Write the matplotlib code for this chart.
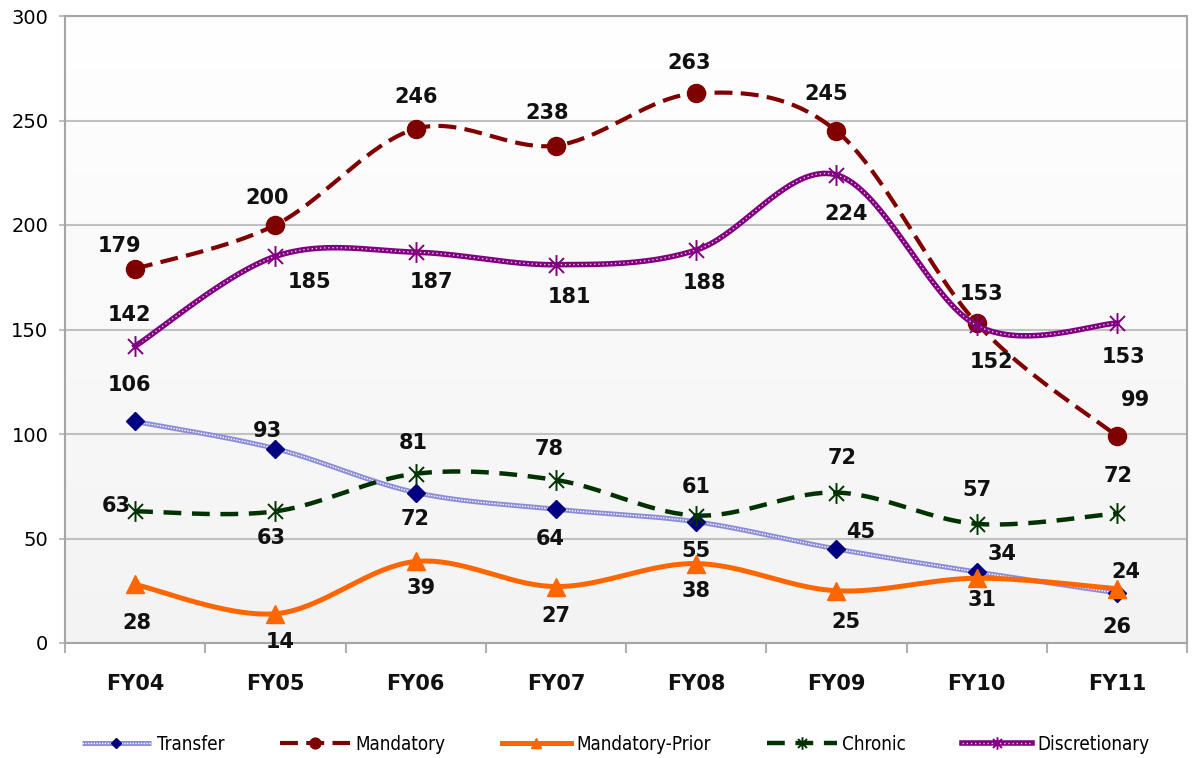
import numpy as np
import matplotlib
matplotlib.use("Agg")
import matplotlib.pyplot as plt
from matplotlib.path import Path
from matplotlib.colors import LinearSegmentedColormap
from matplotlib.legend_handler import HandlerTuple

# data
years = ["FY04", "FY05", "FY06", "FY07", "FY08", "FY09", "FY10", "FY11"]
transfer = [106, 93, 72, 64, 58, 45, 34, 24]
transfer_labels = ["106", "93", "72", "64", "55", "45", "34", "26"]
mandatory = [179, 200, 246, 238, 263, 245, 153, 99]
mandatory_labels = ["179", "200", "246", "238", "263", "245", "153", "99"]
prior = [28, 14, 39, 27, 38, 25, 31, 26]
prior_labels = ["28", "14", "39", "27", "38", "25", "31", "24"]
chronic = [63, 63, 81, 78, 61, 72, 57, 62]
chronic_labels = ["63", "63", "81", "78", "61", "72", "57", "72"]
discretionary = [142, 185, 187, 181, 188, 224, 152, 153]
discretionary_labels = ["142", "185", "187", "181", "188", "224", "152", "153"]

# label offsets in pixels (dx, dy up)
off_transfer = [(-6, 36), (-8, 18), (0, -26), (-6, -30), (0, -29), (24, 17), (25, 18), (0, -34)]
off_mandatory = [(-16, 23), (-8, 27), (0, 32), (-9, 33), (-7, 30), (-10, 37), (5, 29), (19, 36)]
off_prior = [(2, -39), (5, -28), (6, -27), (0, -29), (0, -27), (10, -31), (5, -22), (9, 17)]
off_chronic = [(-19, 5), (-4, -27), (-2, 31), (-7, 31), (0, 29), (6, 35), (0, 34), (1, 37)]
off_disc = [(-6, 31), (34, -26), (16, -30), (14, -32), (8, -33), (10, -39), (15, -37), (7, -34)]

W, H = 1193, 758
YSCALE = (627 / 300) / 140.3   # y units -> x units on screen


def smooth(y, n=40):
    # excel style smoothed line (bezier through the points)
    pts = np.column_stack([np.arange(len(y), dtype=float), np.asarray(y, float) * YSCALE])
    p = np.vstack([pts[0], pts, pts[-1]])
    out = []
    t = np.linspace(0, 1, n)[:, None]
    for i in range(len(pts) - 1):
        p0, p1, p2, p3 = p[i], p[i + 1], p[i + 2], p[i + 3]
        c1 = p1 + (p2 - p0) / 6
        c2 = p2 - (p3 - p1) / 6
        seg = (1 - t) ** 3 * p1 + 3 * (1 - t) ** 2 * t * c1 + 3 * (1 - t) * t ** 2 * c2 + t ** 3 * p2
        out.append(seg if i == 0 else seg[1:])
    out = np.vstack(out)
    return out[:, 0], out[:, 1] / YSCALE


star = Path([(0, -1), (0, 1), (-0.72, -0.72), (0.72, 0.72), (-0.72, 0.72), (0.72, -0.72)],
            [Path.MOVETO, Path.LINETO] * 3)

plt.rcParams['font.family'] = ['DejaVu Sans']
fig = plt.figure(figsize=(W / 100, H / 100), dpi=100)
ax = fig.add_axes([65 / W, 1 - 643 / H, (1187 - 65) / W, (643 - 16) / H])

# plot area gradient
grad = np.linspace(1, 0, 256).reshape(-1, 1)
cmap = LinearSegmentedColormap.from_list("bg", ["#f3f3f3", "#ffffff"])
ax.imshow(grad, extent=(-0.5, 7.5, 0, 300), aspect='auto', cmap=cmap, zorder=0, origin='upper')

x = np.arange(len(years))
handles = []

# Transfer
sx, sy = smooth(transfer)
l1, = ax.plot(sx, sy, color='#8c8cd8', lw=3.6, zorder=3, solid_capstyle='butt')
l2, = ax.plot(sx, sy, color='white', lw=1.0, dashes=(1, 1), zorder=3)
m, = ax.plot(x, transfer, ls='none', marker='D', ms=9, color='#000080', zorder=4)
handles.append((l1, l2, m))

# Mandatory
sx, sy = smooth(mandatory)
l1, = ax.plot(sx, sy, color='#800000', lw=3, dashes=(4.3, 2.0), zorder=5)
m, = ax.plot(x, mandatory, ls='none', marker='o', ms=13, color='#800000', zorder=6)
handles.append((l1, m))

# Mandatory-Prior
sx, sy = smooth(prior)
l1, = ax.plot(sx, sy, color='#ff6600', lw=3.6, zorder=7)
m, = ax.plot(x, prior, ls='none', marker='^', ms=13, color='#ff6600', zorder=8)
handles.append((l1, m))

# Chronic
sx, sy = smooth(chronic)
l1, = ax.plot(sx, sy, color='#003300', lw=3.2, dashes=(4.0, 2.4), zorder=9)
m, = ax.plot(x, chronic, ls='none', marker=star, ms=15, mew=1.4, color='#003300', zorder=10)
handles.append((l1, m))

# Discretionary
sx, sy = smooth(discretionary)
l1, = ax.plot(sx, sy, color='#800080', lw=4, zorder=11)
l2, = ax.plot(sx, sy, color='#e8c8e8', lw=1.0, dashes=(1, 2), zorder=11)
m, = ax.plot(x, discretionary, ls='none', marker=star, ms=15, mew=1.4, color='#800080', zorder=12)
handles.append((l1, l2, m))

# data labels
for vals, labs, offs in [(transfer, transfer_labels, off_transfer),
                         (mandatory, mandatory_labels, off_mandatory),
                         (prior, prior_labels, off_prior),
                         (chronic, chronic_labels, off_chronic),
                         (discretionary, discretionary_labels, off_disc)]:
    for i, (v, s, o) in enumerate(zip(vals, labs, offs)):
        ax.annotate(s, (i, v), xytext=o, textcoords='offset pixels', ha='center', va='center',
                    fontsize=15, fontweight='bold', color='#111111', zorder=20)

ax.set_xlim(-0.5, 7.5)
ax.set_ylim(0, 300)
ax.set_yticks(range(0, 301, 50))
ax.yaxis.grid(True, color='#c0c0c0', lw=1.5, zorder=1)
ax.set_axisbelow(True)
ax.set_xticks(x)
ax.set_xticklabels(years, fontsize=15, fontweight='bold', color='#111111')
ax.set_xticks(np.arange(-0.5, 8, 1), minor=True)
ax.tick_params(axis='x', which='major', length=0, pad=22)
ax.tick_params(axis='x', which='minor', length=7, width=1.5, color='#b0b0b0')
ax.tick_params(axis='y', length=4, width=1.5, color='#c0c0c0', labelsize=14, pad=8)
for sp in ax.spines.values():
    sp.set_color('#a6a6a6')
    sp.set_linewidth(1.5)

names = ["Transfer", "Mandatory", "Mandatory-Prior", "Chronic", "Discretionary"]
fig.legend(handles, names, handler_map={tuple: HandlerTuple(ndivide=1)}, loc='center',
           bbox_to_anchor=(0.516, 1 - 744 / H), ncol=5, frameon=False, handlelength=3.7,
           columnspacing=3.0, handletextpad=0.3, markerscale=0.6,
           prop={'size': 13.5, 'stretch': 'condensed'})

fig.savefig("out.png", dpi=100)
